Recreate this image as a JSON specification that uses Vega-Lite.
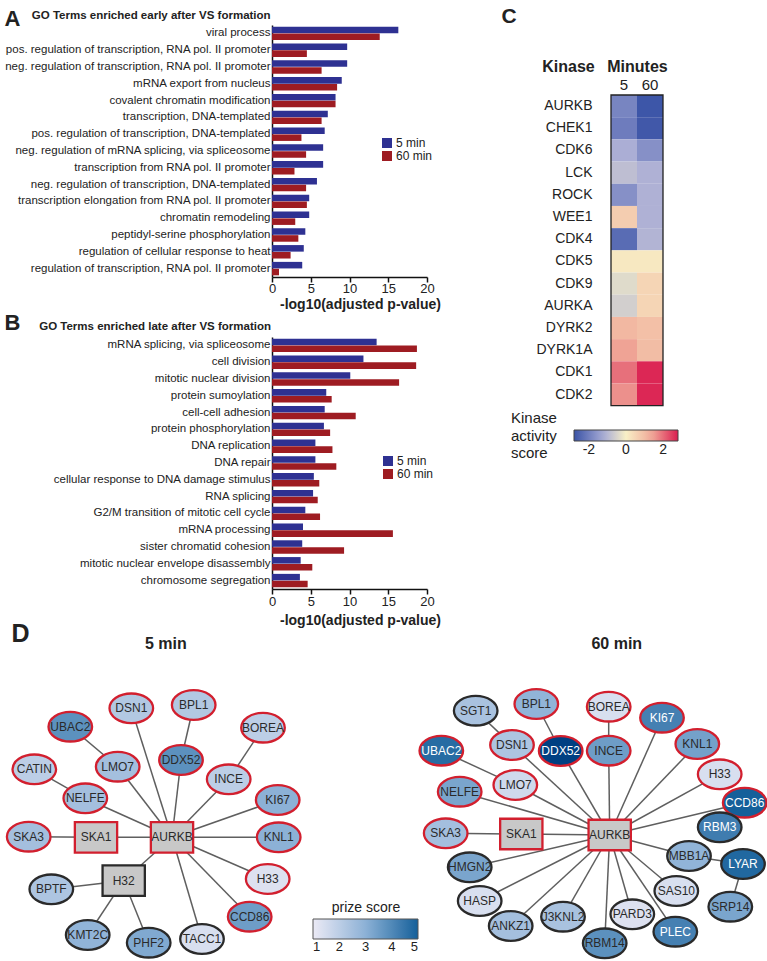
{
  "$schema": "https://vega.github.io/schema/vega-lite/v6.json",
  "padding": {"left": 2, "top": 5, "right": 0, "bottom": 0},
  "background": "white",
  "spacing": -6,
  "config": {
    "font": "Liberation Sans",
    "view": {"stroke": null},
    "axis": {"grid": false, "labelColor": "#222", "titleColor": "#222", "domainColor": "#111", "tickColor": "#111"},
    "legend": {"labelColor": "#222", "titleColor": "#222"},
    "title": {"color": "#222"}
  },
  "datasets": {
    "goEarly": [
      {"term": "viral process", "series": "5 min", "value": 16.3},
      {"term": "viral process", "series": "60 min", "value": 13.9},
      {"term": "pos. regulation of transcription, RNA pol. II promoter", "series": "5 min", "value": 9.7},
      {"term": "pos. regulation of transcription, RNA pol. II promoter", "series": "60 min", "value": 4.5},
      {"term": "neg. regulation of transcription, RNA pol. II promoter", "series": "5 min", "value": 9.7},
      {"term": "neg. regulation of transcription, RNA pol. II promoter", "series": "60 min", "value": 6.4},
      {"term": "mRNA export from nucleus", "series": "5 min", "value": 9.0},
      {"term": "mRNA export from nucleus", "series": "60 min", "value": 8.4},
      {"term": "covalent chromatin modification", "series": "5 min", "value": 8.2},
      {"term": "covalent chromatin modification", "series": "60 min", "value": 8.2},
      {"term": "transcription, DNA-templated", "series": "5 min", "value": 7.2},
      {"term": "transcription, DNA-templated", "series": "60 min", "value": 6.4},
      {"term": "pos. regulation of transcription, DNA-templated", "series": "5 min", "value": 6.8},
      {"term": "pos. regulation of transcription, DNA-templated", "series": "60 min", "value": 3.8},
      {"term": "neg. regulation of mRNA splicing, via spliceosome", "series": "5 min", "value": 6.6},
      {"term": "neg. regulation of mRNA splicing, via spliceosome", "series": "60 min", "value": 4.4},
      {"term": "transcription from RNA pol. II promoter", "series": "5 min", "value": 6.6},
      {"term": "transcription from RNA pol. II promoter", "series": "60 min", "value": 2.9},
      {"term": "neg. regulation of transcription, DNA-templated", "series": "5 min", "value": 5.8},
      {"term": "neg. regulation of transcription, DNA-templated", "series": "60 min", "value": 4.4},
      {"term": "transcription elongation from RNA pol. II promoter", "series": "5 min", "value": 4.8},
      {"term": "transcription elongation from RNA pol. II promoter", "series": "60 min", "value": 4.5},
      {"term": "chromatin remodeling", "series": "5 min", "value": 4.8},
      {"term": "chromatin remodeling", "series": "60 min", "value": 3.0},
      {"term": "peptidyl-serine phosphorylation", "series": "5 min", "value": 4.3},
      {"term": "peptidyl-serine phosphorylation", "series": "60 min", "value": 3.4},
      {"term": "regulation of cellular response to heat", "series": "5 min", "value": 4.1},
      {"term": "regulation of cellular response to heat", "series": "60 min", "value": 2.4},
      {"term": "regulation of transcription, RNA pol. II promoter", "series": "5 min", "value": 3.9},
      {"term": "regulation of transcription, RNA pol. II promoter", "series": "60 min", "value": 0.9}
    ],
    "goLate": [
      {"term": "mRNA splicing, via spliceosome", "series": "5 min", "value": 13.5},
      {"term": "mRNA splicing, via spliceosome", "series": "60 min", "value": 18.7},
      {"term": "cell division", "series": "5 min", "value": 11.8},
      {"term": "cell division", "series": "60 min", "value": 18.6},
      {"term": "mitotic nuclear division", "series": "5 min", "value": 10.1},
      {"term": "mitotic nuclear division", "series": "60 min", "value": 16.4},
      {"term": "protein sumoylation", "series": "5 min", "value": 7.0},
      {"term": "protein sumoylation", "series": "60 min", "value": 7.7},
      {"term": "cell-cell adhesion", "series": "5 min", "value": 6.8},
      {"term": "cell-cell adhesion", "series": "60 min", "value": 10.8},
      {"term": "protein phosphorylation", "series": "5 min", "value": 6.7},
      {"term": "protein phosphorylation", "series": "60 min", "value": 7.5},
      {"term": "DNA replication", "series": "5 min", "value": 5.6},
      {"term": "DNA replication", "series": "60 min", "value": 7.8},
      {"term": "DNA repair", "series": "5 min", "value": 5.6},
      {"term": "DNA repair", "series": "60 min", "value": 8.3},
      {"term": "cellular response to DNA damage stimulus", "series": "5 min", "value": 5.4},
      {"term": "cellular response to DNA damage stimulus", "series": "60 min", "value": 6.1},
      {"term": "RNA splicing", "series": "5 min", "value": 5.3},
      {"term": "RNA splicing", "series": "60 min", "value": 5.9},
      {"term": "G2/M transition of mitotic cell cycle", "series": "5 min", "value": 4.3},
      {"term": "G2/M transition of mitotic cell cycle", "series": "60 min", "value": 6.2},
      {"term": "mRNA processing", "series": "5 min", "value": 4.0},
      {"term": "mRNA processing", "series": "60 min", "value": 15.6},
      {"term": "sister chromatid cohesion", "series": "5 min", "value": 3.9},
      {"term": "sister chromatid cohesion", "series": "60 min", "value": 9.3},
      {"term": "mitotic nuclear envelope disassembly", "series": "5 min", "value": 3.7},
      {"term": "mitotic nuclear envelope disassembly", "series": "60 min", "value": 5.2},
      {"term": "chromosome segregation", "series": "5 min", "value": 3.6},
      {"term": "chromosome segregation", "series": "60 min", "value": 4.6}
    ],
    "kinase": [
      {"kinase": "AURKB", "minutes": "5", "score": -1.9}, {"kinase": "AURKB", "minutes": "60", "score": -2.75},
      {"kinase": "CHEK1", "minutes": "5", "score": -2.05}, {"kinase": "CHEK1", "minutes": "60", "score": -2.7},
      {"kinase": "CDK6", "minutes": "5", "score": -1.15}, {"kinase": "CDK6", "minutes": "60", "score": -1.7},
      {"kinase": "LCK", "minutes": "5", "score": -0.87}, {"kinase": "LCK", "minutes": "60", "score": -1.1},
      {"kinase": "ROCK", "minutes": "5", "score": -1.7}, {"kinase": "ROCK", "minutes": "60", "score": -1.1},
      {"kinase": "WEE1", "minutes": "5", "score": 0.68}, {"kinase": "WEE1", "minutes": "60", "score": -1.1},
      {"kinase": "CDK4", "minutes": "5", "score": -2.35}, {"kinase": "CDK4", "minutes": "60", "score": -1.05},
      {"kinase": "CDK5", "minutes": "5", "score": 0.15}, {"kinase": "CDK5", "minutes": "60", "score": 0.15},
      {"kinase": "CDK9", "minutes": "5", "score": -0.37}, {"kinase": "CDK9", "minutes": "60", "score": 0.53},
      {"kinase": "AURKA", "minutes": "5", "score": -0.57}, {"kinase": "AURKA", "minutes": "60", "score": 0.53},
      {"kinase": "DYRK2", "minutes": "5", "score": 1.09}, {"kinase": "DYRK2", "minutes": "60", "score": 0.93},
      {"kinase": "DYRK1A", "minutes": "5", "score": 1.45}, {"kinase": "DYRK1A", "minutes": "60", "score": 1.0},
      {"kinase": "CDK1", "minutes": "5", "score": 1.96}, {"kinase": "CDK1", "minutes": "60", "score": 2.7},
      {"kinase": "CDK2", "minutes": "5", "score": 1.64}, {"kinase": "CDK2", "minutes": "60", "score": 2.7}
    ],
    "nodes5": [
      {"id": "DSN1", "x": 129.3, "y": 708.3, "kind": "terminal", "prize": 2.2, "aurkb_substrate": "yes"},
      {"id": "BPL1", "x": 191.7, "y": 705, "kind": "terminal", "prize": 2.2, "aurkb_substrate": "yes"},
      {"id": "UBAC2", "x": 68.3, "y": 726.7, "kind": "terminal", "prize": 3.8, "aurkb_substrate": "yes"},
      {"id": "BOREA", "x": 261, "y": 727.7, "kind": "terminal", "prize": 2.0, "aurkb_substrate": "yes"},
      {"id": "DDX52", "x": 179, "y": 760, "kind": "terminal", "prize": 3.8, "aurkb_substrate": "yes"},
      {"id": "LMO7", "x": 115.7, "y": 766.7, "kind": "terminal", "prize": 2.5, "aurkb_substrate": "yes"},
      {"id": "CATIN", "x": 32.3, "y": 769.3, "kind": "terminal", "prize": 2.0, "aurkb_substrate": "yes"},
      {"id": "INCE", "x": 226.7, "y": 779.3, "kind": "terminal", "prize": 2.0, "aurkb_substrate": "yes"},
      {"id": "NELFE", "x": 83.3, "y": 798.3, "kind": "terminal", "prize": 2.5, "aurkb_substrate": "yes"},
      {"id": "KI67", "x": 275.7, "y": 800, "kind": "terminal", "prize": 3.0, "aurkb_substrate": "yes"},
      {"id": "SKA3", "x": 26.7, "y": 836.7, "kind": "terminal", "prize": 2.5, "aurkb_substrate": "yes"},
      {"id": "SKA1", "x": 94, "y": 837.3, "kind": "steiner", "prize": null, "aurkb_substrate": "yes"},
      {"id": "AURKB", "x": 170, "y": 837.3, "kind": "steiner", "prize": null, "aurkb_substrate": "yes"},
      {"id": "KNL1", "x": 276.7, "y": 837.3, "kind": "terminal", "prize": 3.0, "aurkb_substrate": "yes"},
      {"id": "H32", "x": 121.7, "y": 880.7, "kind": "steiner", "prize": null, "aurkb_substrate": "no"},
      {"id": "BPTF", "x": 49.3, "y": 889.3, "kind": "terminal", "prize": 2.3, "aurkb_substrate": "no"},
      {"id": "H33", "x": 265.7, "y": 879, "kind": "terminal", "prize": 1.3, "aurkb_substrate": "yes"},
      {"id": "CCD86", "x": 247.7, "y": 916.7, "kind": "terminal", "prize": 3.5, "aurkb_substrate": "yes"},
      {"id": "KMT2C", "x": 85.7, "y": 935, "kind": "terminal", "prize": 2.9, "aurkb_substrate": "no"},
      {"id": "PHF2", "x": 146.7, "y": 942.7, "kind": "terminal", "prize": 3.2, "aurkb_substrate": "no"},
      {"id": "TACC1", "x": 200, "y": 939, "kind": "terminal", "prize": 1.4, "aurkb_substrate": "no"}
    ],
    "edges5": [
      {"source": "UBAC2", "target": "LMO7"}, {"source": "LMO7", "target": "AURKB"},
      {"source": "DSN1", "target": "AURKB"}, {"source": "BPL1", "target": "DDX52"},
      {"source": "DDX52", "target": "AURKB"}, {"source": "BOREA", "target": "INCE"},
      {"source": "INCE", "target": "AURKB"}, {"source": "CATIN", "target": "NELFE"},
      {"source": "NELFE", "target": "AURKB"}, {"source": "KI67", "target": "AURKB"},
      {"source": "KNL1", "target": "AURKB"}, {"source": "H33", "target": "AURKB"},
      {"source": "CCD86", "target": "AURKB"}, {"source": "TACC1", "target": "AURKB"},
      {"source": "SKA3", "target": "SKA1"}, {"source": "SKA1", "target": "AURKB"},
      {"source": "H32", "target": "AURKB"}, {"source": "BPTF", "target": "H32"},
      {"source": "KMT2C", "target": "H32"}, {"source": "PHF2", "target": "H32"}
    ],
    "nodes60": [
      {"id": "SGT1", "x": 472.7, "y": 710.7, "kind": "terminal", "prize": 2.4, "aurkb_substrate": "no"},
      {"id": "BPL1", "x": 533.3, "y": 704, "kind": "terminal", "prize": 2.9, "aurkb_substrate": "yes"},
      {"id": "BOREA", "x": 605.7, "y": 706.7, "kind": "terminal", "prize": 1.4, "aurkb_substrate": "yes"},
      {"id": "KI67", "x": 659, "y": 717.7, "kind": "terminal", "prize": 4.2, "aurkb_substrate": "yes"},
      {"id": "UBAC2", "x": 438.3, "y": 750.7, "kind": "terminal", "prize": 4.7, "aurkb_substrate": "yes"},
      {"id": "DSN1", "x": 509, "y": 745, "kind": "terminal", "prize": 2.3, "aurkb_substrate": "yes"},
      {"id": "DDX52", "x": 557.7, "y": 751, "kind": "terminal", "prize": 5.8, "aurkb_substrate": "yes"},
      {"id": "INCE", "x": 605.7, "y": 750.7, "kind": "terminal", "prize": 3.5, "aurkb_substrate": "yes"},
      {"id": "KNL1", "x": 694.3, "y": 744, "kind": "terminal", "prize": 3.4, "aurkb_substrate": "yes"},
      {"id": "H33", "x": 716.7, "y": 774.3, "kind": "terminal", "prize": 1.4, "aurkb_substrate": "yes"},
      {"id": "LMO7", "x": 512.3, "y": 785, "kind": "terminal", "prize": 1.6, "aurkb_substrate": "yes"},
      {"id": "NELFE", "x": 456.7, "y": 791.7, "kind": "terminal", "prize": 3.3, "aurkb_substrate": "yes"},
      {"id": "CCD86", "x": 741.7, "y": 802.7, "kind": "terminal", "prize": 5.0, "aurkb_substrate": "yes"},
      {"id": "SKA3", "x": 442.7, "y": 833.3, "kind": "terminal", "prize": 2.5, "aurkb_substrate": "yes"},
      {"id": "SKA1", "x": 518.3, "y": 834, "kind": "steiner", "prize": null, "aurkb_substrate": "yes"},
      {"id": "AURKB", "x": 606.7, "y": 835, "kind": "steiner", "prize": null, "aurkb_substrate": "yes"},
      {"id": "RBM3", "x": 716.7, "y": 827.3, "kind": "terminal", "prize": 4.3, "aurkb_substrate": "no"},
      {"id": "MBB1A", "x": 686, "y": 856, "kind": "terminal", "prize": 2.9, "aurkb_substrate": "no"},
      {"id": "LYAR", "x": 740, "y": 864, "kind": "terminal", "prize": 4.8, "aurkb_substrate": "no"},
      {"id": "HMGN2", "x": 466.7, "y": 867.3, "kind": "terminal", "prize": 3.3, "aurkb_substrate": "no"},
      {"id": "SAS10", "x": 673.3, "y": 891, "kind": "terminal", "prize": 1.4, "aurkb_substrate": "no"},
      {"id": "HASP", "x": 476.7, "y": 901, "kind": "terminal", "prize": 1.4, "aurkb_substrate": "no"},
      {"id": "SRP14", "x": 727.3, "y": 906.7, "kind": "terminal", "prize": 3.3, "aurkb_substrate": "no"},
      {"id": "J3KNL2", "x": 560, "y": 916.7, "kind": "terminal", "prize": 2.4, "aurkb_substrate": "no"},
      {"id": "PARD3", "x": 629.3, "y": 914.3, "kind": "terminal", "prize": 1.3, "aurkb_substrate": "no"},
      {"id": "ANKZ1", "x": 507.7, "y": 926, "kind": "terminal", "prize": 2.5, "aurkb_substrate": "no"},
      {"id": "PLEC", "x": 672.3, "y": 931.7, "kind": "terminal", "prize": 4.2, "aurkb_substrate": "no"},
      {"id": "RBM14", "x": 601.7, "y": 943.3, "kind": "terminal", "prize": 3.8, "aurkb_substrate": "no"}
    ],
    "edges60": [
      {"source": "SGT1", "target": "DSN1"}, {"source": "BPL1", "target": "DDX52"},
      {"source": "BOREA", "target": "INCE"}, {"source": "UBAC2", "target": "LMO7"},
      {"source": "DSN1", "target": "AURKB"}, {"source": "DDX52", "target": "AURKB"},
      {"source": "INCE", "target": "AURKB"}, {"source": "KI67", "target": "AURKB"},
      {"source": "KNL1", "target": "AURKB"}, {"source": "H33", "target": "AURKB"},
      {"source": "LMO7", "target": "AURKB"}, {"source": "NELFE", "target": "AURKB"},
      {"source": "CCD86", "target": "AURKB"}, {"source": "SKA3", "target": "SKA1"},
      {"source": "SKA1", "target": "AURKB"}, {"source": "HMGN2", "target": "AURKB"},
      {"source": "HASP", "target": "AURKB"}, {"source": "ANKZ1", "target": "AURKB"},
      {"source": "J3KNL2", "target": "AURKB"}, {"source": "RBM14", "target": "AURKB"},
      {"source": "PARD3", "target": "AURKB"}, {"source": "PLEC", "target": "AURKB"},
      {"source": "SAS10", "target": "AURKB"}, {"source": "MBB1A", "target": "AURKB"},
      {"source": "MBB1A", "target": "LYAR"}, {"source": "LYAR", "target": "SRP14"}
    ]
  },
  "resolve": {"scale": {"color": "independent"}},
  "vconcat": [
    {
      "spacing": 60,
      "resolve": {"scale": {"color": "independent"}},
      "hconcat": [
        {
          "spacing": 0,
          "resolve": {"scale": {"color": "independent"}},
          "vconcat": [
            {
              "width": 155, "height": 252,
              "data": {"name": "goEarly"},
              "resolve": {"axis": {"y": "independent"}},
              "layer": [
                {
                  "mark": {"type": "bar"},
                  "encoding": {
                    "y": {"field": "term", "type": "nominal", "sort": null, "scale": {"paddingInner": 0.2, "paddingOuter": 0.1},
                      "axis": {"title": "A", "titleAngle": 0, "titleX": -268, "titleY": 0, "titleAlign": "left", "titleBaseline": "alphabetic", "titleFontSize": 22, "titleFontWeight": "bold", "labelFontSize": 11.5, "labelPadding": 2, "labelLimit": 400, "ticks": false, "domainWidth": 1.5}},
                    "yOffset": {"field": "series", "type": "nominal", "sort": ["5 min", "60 min"], "scale": {"paddingInner": 0.05}},
                    "x": {"field": "value", "type": "quantitative", "scale": {"domain": [0, 20], "nice": false},
                      "axis": {"values": [0, 5, 10, 15, 20], "title": "-log10(adjusted p-value)", "titleX": 88, "titleY": 31, "titleBaseline": "alphabetic", "titleFontSize": 14, "titleFontWeight": "bold", "labelFontSize": 13, "labelPadding": 0, "labelFlush": false, "tickSize": 5, "tickWidth": 1.5, "domainWidth": 1.5}},
                    "color": {"field": "series", "type": "nominal", "scale": {"domain": ["5 min", "60 min"], "range": ["#2e3192", "#9e1c22"]},
                      "legend": {"orient": "none", "legendX": 109, "legendY": 112, "title": null, "symbolType": "square", "symbolSize": 100, "symbolStrokeWidth": 0, "labelFontSize": 12, "labelOffset": 3, "rowPadding": 1}}
                  }
                },
                {
                  "mark": {"type": "bar", "opacity": 0},
                  "encoding": {
                    "y": {"field": "term", "type": "nominal", "sort": null,
                      "axis": {"orient": "right", "title": "GO Terms enriched early after VS formation", "titleAngle": 0, "titleX": -395.7, "titleY": -7, "titleAlign": "left", "titleBaseline": "alphabetic", "titleFontSize": 11.5, "titleFontWeight": "bold", "labels": false, "ticks": false, "domain": false}}
                  }
                }
              ]
            },
            {
              "width": 155, "height": 252,
              "data": {"name": "goLate"},
              "resolve": {"axis": {"y": "independent"}},
              "layer": [
                {
                  "mark": {"type": "bar"},
                  "encoding": {
                    "y": {"field": "term", "type": "nominal", "sort": null, "scale": {"paddingInner": 0.2, "paddingOuter": 0.1},
                      "axis": {"title": "B", "titleAngle": 0, "titleX": -268, "titleY": -7.3, "titleAlign": "left", "titleBaseline": "alphabetic", "titleFontSize": 22, "titleFontWeight": "bold", "labelFontSize": 11.5, "labelPadding": 2, "labelLimit": 400, "ticks": false, "domainWidth": 1.5}},
                    "yOffset": {"field": "series", "type": "nominal", "sort": ["5 min", "60 min"], "scale": {"paddingInner": 0.05}},
                    "x": {"field": "value", "type": "quantitative", "scale": {"domain": [0, 20], "nice": false},
                      "axis": {"values": [0, 5, 10, 15, 20], "title": "-log10(adjusted p-value)", "titleX": 88, "titleY": 35, "titleBaseline": "alphabetic", "titleFontSize": 14, "titleFontWeight": "bold", "labelFontSize": 13, "labelPadding": 1, "labelFlush": false, "tickSize": 5, "tickWidth": 1.5, "domainWidth": 1.5}},
                    "color": {"field": "series", "type": "nominal", "scale": {"domain": ["5 min", "60 min"], "range": ["#2e3192", "#9e1c22"]},
                      "legend": {"orient": "none", "legendX": 110, "legendY": 118, "title": null, "symbolType": "square", "symbolSize": 100, "symbolStrokeWidth": 0, "labelFontSize": 12, "labelOffset": 3, "rowPadding": 1}}
                  }
                },
                {
                  "mark": {"type": "bar", "opacity": 0},
                  "encoding": {
                    "y": {"field": "term", "type": "nominal", "sort": null,
                      "axis": {"orient": "right", "title": "GO Terms enriched late after VS formation", "titleAngle": 0, "titleX": -388.3, "titleY": -7.5, "titleAlign": "left", "titleBaseline": "alphabetic", "titleFontSize": 11.5, "titleFontWeight": "bold", "labels": false, "ticks": false, "domain": false}}
                  }
                }
              ]
            }
          ]
        },
        {
          "width": 52, "height": 400,
          "resolve": {"axis": {"y": "independent"}},
          "layer": [
            {
              "data": {"name": "kinase"},
              "mark": {"type": "rect"},
              "encoding": {
                "x": {"field": "minutes", "type": "ordinal", "sort": ["5", "60"], "scale": {"paddingInner": 0, "paddingOuter": 0},
                  "axis": {"orient": "top", "offset": -70, "title": "Minutes", "titleY": -24, "titleBaseline": "alphabetic", "titleFontSize": 16, "titleFontWeight": "bold", "labelFontSize": 15, "labelAngle": 0, "ticks": false, "tickSize": 0, "domain": false, "labelPadding": 6, "labelBaseline": "alphabetic"}},
                "y": {"field": "kinase", "type": "nominal", "sort": ["AURKB", "CHEK1", "CDK6", "LCK", "ROCK", "WEE1", "CDK4", "CDK5", "CDK9", "AURKA", "DYRK2", "DYRK1A", "CDK1", "CDK2"],
                  "scale": {"range": [70, 380.7], "paddingInner": 0, "paddingOuter": 0},
                  "axis": {"title": "Kinase", "titleAngle": 0, "titleX": -43, "titleY": 46, "titleAlign": "center", "titleBaseline": "alphabetic", "titleFontSize": 16, "titleFontWeight": "bold", "labelFontSize": 14, "labelPadding": 19, "ticks": false, "domain": false}},
                "color": {"field": "score", "type": "quantitative",
                  "scale": {"domain": [-2.8, -1.2, 0, 1.4, 2.8], "range": ["#3a53a6", "#a8abd6", "#f8f0c6", "#f0a898", "#da1d50"], "interpolate": "rgb"},
                  "legend": {"orient": "none", "legendX": -100, "legendY": 405, "direction": "horizontal", "title": ["Kinase", "activity", "score"], "titleOrient": "left", "titleAnchor": "middle", "titleFontSize": 15, "titleFontWeight": "normal", "titleLineHeight": 17.5, "titlePadding": 17, "gradientLength": 104, "gradientThickness": 11, "values": [-2, 0, 2], "labelExpr": "datum.value < 0 ? '-' + abs(datum.value) : '' + datum.value", "labelFontSize": 14, "gradientStrokeColor": "#444", "gradientStrokeWidth": 1}}
              }
            },
            {
              "data": {"values": [{}]},
              "mark": {"type": "rect", "filled": false, "color": "#222", "strokeWidth": 1.3},
              "encoding": {
                "x": {"datum": "5", "type": "ordinal", "bandPosition": 0, "title": "Minutes"},
                "x2": {"datum": "60", "bandPosition": 1},
                "y": {"datum": "AURKB", "type": "nominal", "bandPosition": 0,
                  "axis": {"orient": "right", "title": "C", "titleAngle": 0, "titleX": -162, "titleY": -3, "titleAlign": "left", "titleBaseline": "alphabetic", "titleFontSize": 21, "titleFontWeight": "bold", "labels": false, "ticks": false, "domain": false}},
                "y2": {"datum": "CDK2", "bandPosition": 1}
              }
            }
          ]
        }
      ]
    },
    {
      "spacing": -5,
      "resolve": {"scale": {"fill": "independent"}},
      "hconcat": [
        {
          "width": 140, "height": 280,
          "encoding": {
            "x": {"field": "x", "type": "quantitative", "scale": {"domain": [270, 410], "nice": false, "zero": false},
              "axis": {"orient": "top", "title": "5 min", "titleX": -106.7, "titleY": -32, "titleAlign": "center", "titleBaseline": "alphabetic", "titleFontSize": 16, "titleFontWeight": "bold", "labels": false, "ticks": false, "domain": false, "grid": false}},
            "y": {"field": "y", "type": "quantitative", "scale": {"domain": [680, 960], "nice": false, "zero": false, "reverse": true},
              "axis": {"title": "D", "titleAngle": 0, "titleX": -261, "titleY": -38.3, "titleAlign": "left", "titleBaseline": "alphabetic", "titleFontSize": 25, "titleFontWeight": "bold", "labels": false, "ticks": false, "domain": false, "grid": false}}
          },
          "layer": [
            {
              "data": {"name": "edges5"},
              "transform": [
                {"lookup": "source", "from": {"data": {"name": "nodes5"}, "key": "id", "fields": ["x", "y"]}},
                {"lookup": "target", "from": {"data": {"name": "nodes5"}, "key": "id", "fields": ["x", "y"]}, "as": ["xe", "ye"]}
              ],
              "mark": {"type": "rule", "color": "#5f5f5f", "strokeWidth": 1.5},
              "encoding": {"x2": {"field": "xe"}, "y2": {"field": "ye"}}
            },
            {
              "data": {"name": "nodes5"},
              "transform": [{"filter": "datum.kind === 'terminal'"}],
              "mark": {"type": "point", "shape": "M-1,0A1,0.68,0,1,1,1,0A1,0.68,0,1,1,-1,0Z", "filled": true, "size": 1900, "strokeWidth": 2.3, "opacity": 1},
              "encoding": {
                "fill": {"field": "prize", "type": "quantitative",
                  "scale": {"domain": [1, 3, 5], "range": ["#ebeaf5", "#8cb1d6", "#15609a"], "interpolate": "rgb"},
                  "legend": {"orient": "none", "legendX": 41, "legendY": 221, "direction": "horizontal", "title": "prize score", "titleFontSize": 14, "titleFontWeight": "normal", "titleAnchor": "middle", "titlePadding": 4, "gradientLength": 105, "gradientThickness": 20, "values": [1, 2, 3, 4, 5], "labelFontSize": 13, "gradientStrokeColor": "#555", "gradientStrokeWidth": 1}},
                "stroke": {"field": "aurkb_substrate", "type": "nominal", "scale": {"domain": ["yes", "no"], "range": ["#d21f2e", "#2a2a2a"]}, "legend": null}
              }
            },
            {
              "data": {"name": "nodes5"},
              "transform": [{"filter": "datum.kind === 'steiner'"}],
              "mark": {"type": "point", "shape": "M-0.97,-0.7L0.97,-0.7L0.97,0.7L-0.97,0.7Z", "filled": true, "fill": "#c8c8c8", "size": 1900, "strokeWidth": 2.3, "opacity": 1},
              "encoding": {
                "stroke": {"field": "aurkb_substrate", "type": "nominal", "scale": {"domain": ["yes", "no"], "range": ["#d21f2e", "#2a2a2a"]}, "legend": null}
              }
            },
            {
              "data": {"name": "nodes5"},
              "mark": {"type": "text", "fontSize": 12, "baseline": "middle", "align": "center"},
              "encoding": {
                "text": {"field": "id"},
                "color": {"condition": {"test": "datum.prize >= 4", "value": "white"}, "value": "#2a2a2a"}
              }
            }
          ]
        },
        {
          "width": 351, "height": 280,
          "encoding": {
            "x": {"field": "x", "type": "quantitative", "scale": {"domain": [416, 767], "nice": false, "zero": false},
              "axis": {"orient": "top", "title": "60 min", "titleX": 197.3, "titleY": -32, "titleAlign": "center", "titleBaseline": "alphabetic", "titleFontSize": 16, "titleFontWeight": "bold", "labels": false, "ticks": false, "domain": false, "grid": false}},
            "y": {"field": "y", "type": "quantitative", "scale": {"domain": [680, 960], "nice": false, "zero": false, "reverse": true}, "axis": null}
          },
          "layer": [
            {
              "data": {"name": "edges60"},
              "transform": [
                {"lookup": "source", "from": {"data": {"name": "nodes60"}, "key": "id", "fields": ["x", "y"]}},
                {"lookup": "target", "from": {"data": {"name": "nodes60"}, "key": "id", "fields": ["x", "y"]}, "as": ["xe", "ye"]}
              ],
              "mark": {"type": "rule", "color": "#5f5f5f", "strokeWidth": 1.5},
              "encoding": {"x2": {"field": "xe"}, "y2": {"field": "ye"}}
            },
            {
              "data": {"name": "nodes60"},
              "transform": [{"filter": "datum.kind === 'terminal'"}],
              "mark": {"type": "point", "shape": "M-1,0A1,0.68,0,1,1,1,0A1,0.68,0,1,1,-1,0Z", "filled": true, "size": 1900, "strokeWidth": 2.3, "opacity": 1},
              "encoding": {
                "fill": {"field": "prize", "type": "quantitative",
                  "scale": {"domain": [1, 3, 5], "range": ["#ebeaf5", "#8cb1d6", "#15609a"], "interpolate": "rgb"},
                  "legend": null},
                "stroke": {"field": "aurkb_substrate", "type": "nominal", "scale": {"domain": ["yes", "no"], "range": ["#d21f2e", "#2a2a2a"]}, "legend": null}
              }
            },
            {
              "data": {"name": "nodes60"},
              "transform": [{"filter": "datum.kind === 'steiner'"}],
              "mark": {"type": "point", "shape": "M-0.97,-0.7L0.97,-0.7L0.97,0.7L-0.97,0.7Z", "filled": true, "fill": "#c8c8c8", "size": 1900, "strokeWidth": 2.3, "opacity": 1},
              "encoding": {
                "stroke": {"field": "aurkb_substrate", "type": "nominal", "scale": {"domain": ["yes", "no"], "range": ["#d21f2e", "#2a2a2a"]}, "legend": null}
              }
            },
            {
              "data": {"name": "nodes60"},
              "mark": {"type": "text", "fontSize": 12, "baseline": "middle", "align": "center"},
              "encoding": {
                "text": {"field": "id"},
                "color": {"condition": {"test": "datum.prize >= 4", "value": "white"}, "value": "#2a2a2a"}
              }
            }
          ]
        }
      ]
    }
  ]
}
